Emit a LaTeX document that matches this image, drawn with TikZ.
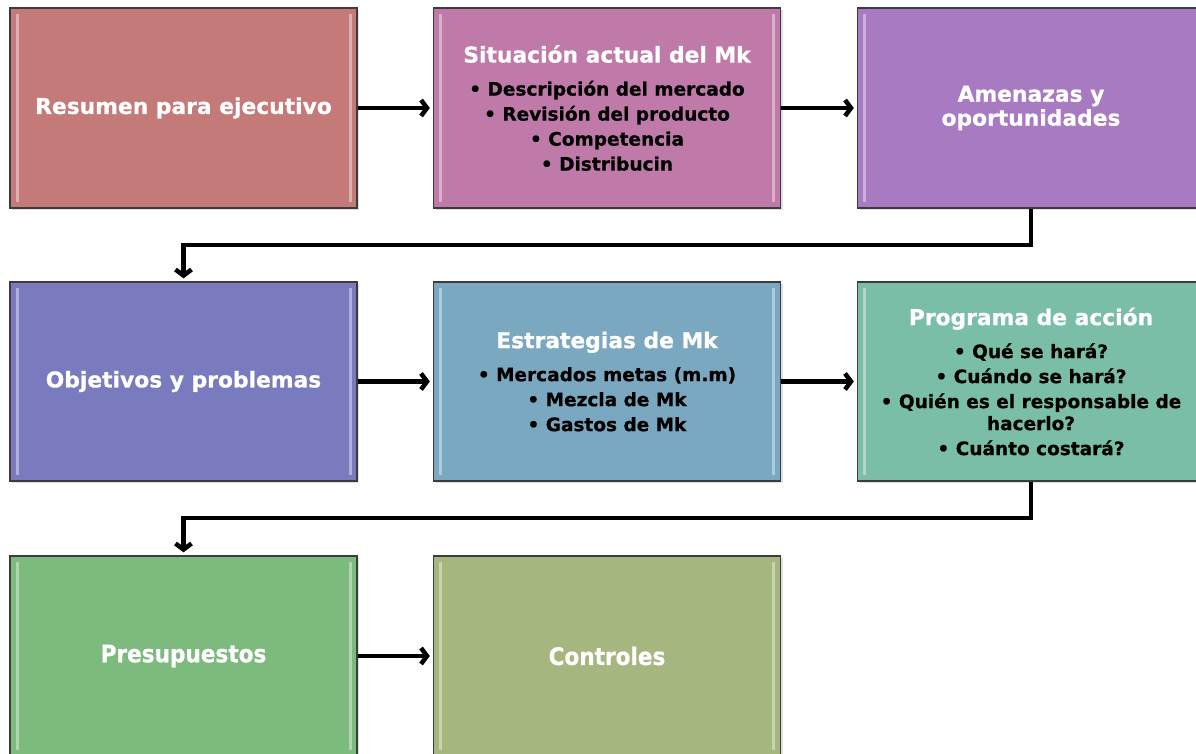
\documentclass[tikz,border=0pt]{standalone}
\usepackage{fontspec}
\setmainfont{DejaVu Sans}[BoldFeatures={FakeBold=0.7}]
\newfontfamily\condfont{DejaVu Sans Condensed}[BoldFeatures={FakeBold=0.7}]
\usetikzlibrary{arrows.meta,shadows}
\definecolor{c1}{HTML}{C47A78}
\definecolor{c2}{HTML}{C07AAA}
\definecolor{c3}{HTML}{A87AC2}
\definecolor{c4}{HTML}{7A7ABE}
\definecolor{c5}{HTML}{7AA8C0}
\definecolor{c6}{HTML}{7ABEA8}
\definecolor{c7}{HTML}{7DBA7E}
\definecolor{c8}{HTML}{A5B77E}
\definecolor{edge}{HTML}{3C3C3C}
\tikzset{
  box/.style={draw=edge, line width=1.3pt, minimum width=347pt, minimum height=200pt,
    inner sep=4pt, align=center, font=\bfseries\fontsize{18.5}{25}\selectfont,
    drop shadow={shadow xshift=2pt, shadow yshift=-2pt, opacity=0.25},
    path picture={
      \draw[white, opacity=0.4, line width=3pt]
        ([xshift=7pt,yshift=-6pt]path picture bounding box.north west) --
        ([xshift=7pt,yshift=6pt]path picture bounding box.south west);
      \draw[white, opacity=0.4, line width=3pt]
        ([xshift=-7pt,yshift=-6pt]path picture bounding box.north east) --
        ([xshift=-7pt,yshift=6pt]path picture bounding box.south east);
    }},
  conn/.style={line width=4.5pt, draw=black, -{Straight Barb[length=6pt,width=16pt]}, shorten >=3pt},
}
\newcommand{\tit}[1]{{\color{white}\fontsize{21.8}{26}\selectfont #1}}
\newcommand{\bigtit}[1]{{\color{white}\fontsize{24}{28}\selectfont #1}}
\begin{document}
\begin{tikzpicture}[x=1pt,y=-1pt]
\useasboundingbox (0,0) rectangle (1196,753);
\clip (0,0) rectangle (1196,753);
% row 1
\node[box, fill=c1] (b1) at (183.5,108) {\tit{Resumen para ejecutivo}};
\node[box, fill=c2] (b2) at (607,108) {\tit{Situación actual del Mk}\\[8pt]
  • Descripción del mercado\\ • Revisión del producto\\ • Competencia\\ • Distribucin};
\node[box, fill=c3] (b3) at (1031,108) {\tit{Amenazas y}\\[-1pt] \tit{oportunidades}};
% row 2
\node[box, fill=c4, minimum height=199pt] (b4) at (183.5,381.5) {\tit{Objetivos y problemas}};
\node[box, fill=c5, minimum height=199pt] (b5) at (607,381.5) {\tit{Estrategias de Mk}\\[8pt]
  • Mercados metas (m.m)\\ • Mezcla de Mk\\ • Gastos de Mk};
\node[box, fill=c6, minimum height=199pt] (b6) at (1031,381.5) {\tit{Programa de acción}\\[8pt]
  • Qué se hará?\\ • Cuándo se hará?\\ • Quién es el responsable de\\[-3pt] hacerlo?\\ • Cuánto costará?};
% row 3
\node[box, fill=c7] (b7) at (183.5,656) {\condfont\bigtit{Presupuestos}};
\node[box, fill=c8] (b8) at (607,656) {\condfont\bigtit{Controles}};
% connectors
\draw[conn] (b1.east) -- (b2.west);
\draw[conn] (b2.east) -- (b3.west);
\draw[conn] (b4.east) -- (b5.west);
\draw[conn] (b5.east) -- (b6.west);
\draw[conn] (b7.east) -- (b8.west);
\draw[conn] (b3.south) -- (b3.south |- 0,245) -| (b4.north);
\draw[conn] (b6.south) -- (b6.south |- 0,518) -| (b7.north);
\end{tikzpicture}
\end{document}
